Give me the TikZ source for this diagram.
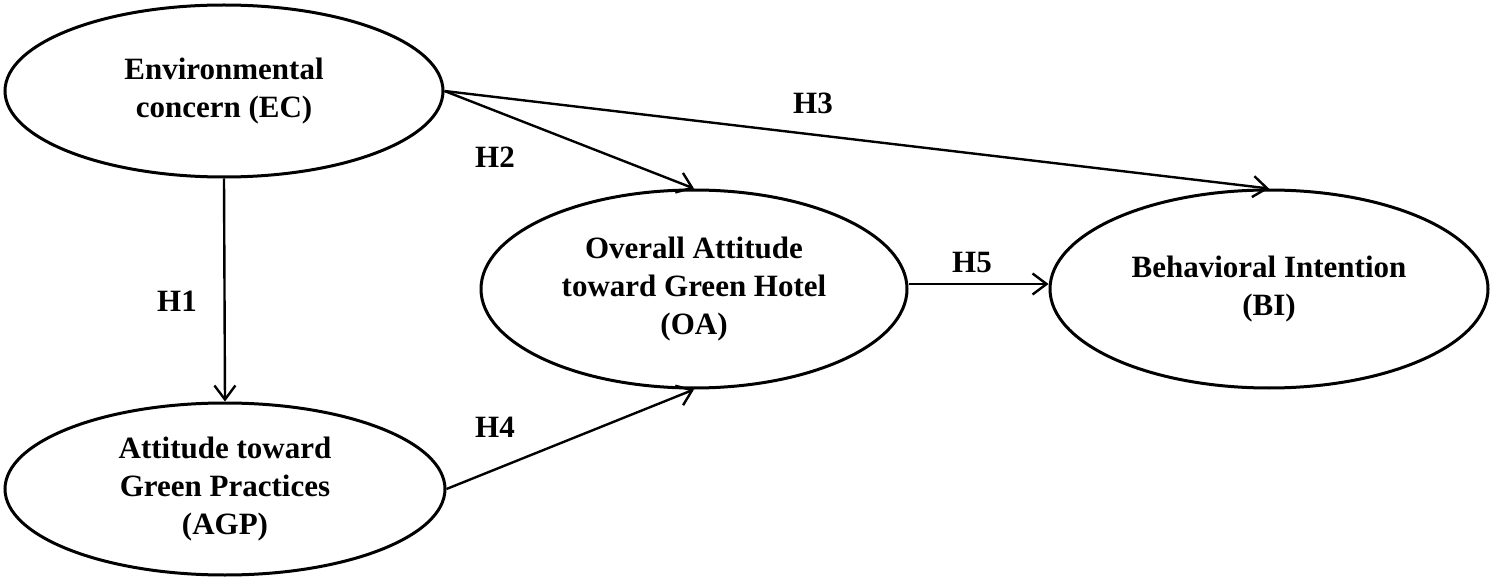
\documentclass[tikz,border=0pt]{standalone}
\usepackage{fontspec}
\setmainfont{Liberation Serif}
\usetikzlibrary{shapes.geometric,arrows.meta}
\tikzset{
  txt/.style={font=\fontsize{31}{38}\selectfont\bfseries, align=center},
  construct/.style={ellipse, draw, line width=3pt, inner sep=0pt, txt},
  link/.style={line width=2.4pt, -{Straight Barb[length=14pt,width=21pt,line width=2.4pt]}},
  hyp/.style={txt, inner sep=0pt}
}
\begin{document}
\begin{tikzpicture}[x=1pt,y=-1pt]
\useasboundingbox (0,0) rectangle (1500,580);
\node[construct, minimum width=438pt, minimum height=172pt] (EC) at (224,91) {Environmental\\concern (EC)};
\node[construct, minimum width=440pt, minimum height=172pt] (AGP) at (225,489) {Attitude toward\\Green Practices\\(AGP)};
\node[construct, minimum width=426pt, minimum height=198pt] (OA) at (694,289) {Overall Attitude\\toward Green Hotel\\(OA)};
\node[construct, minimum width=438pt, minimum height=198pt] (BI) at (1269,289) {Behavioral Intention\\(BI)};
\draw[link] (EC.south) -- (AGP.north);
\draw[link] (EC.east) -- (OA.north);
\draw[link] (EC.east) -- (BI.north);
\draw[link] (AGP.east) -- (OA.south);
\draw[link] ([yshift=5pt]OA.east) -- ([yshift=5pt]BI.west);
\node[hyp] (h1) at (177,301) {H1};
\node[hyp] (h2) at (495,157) {H2};
\node[hyp] (h3) at (813,103) {H3};
\node[hyp] (h4) at (495,427) {H4};
\node[hyp] (h5) at (972,263) {H5};
\end{tikzpicture}
\end{document}
